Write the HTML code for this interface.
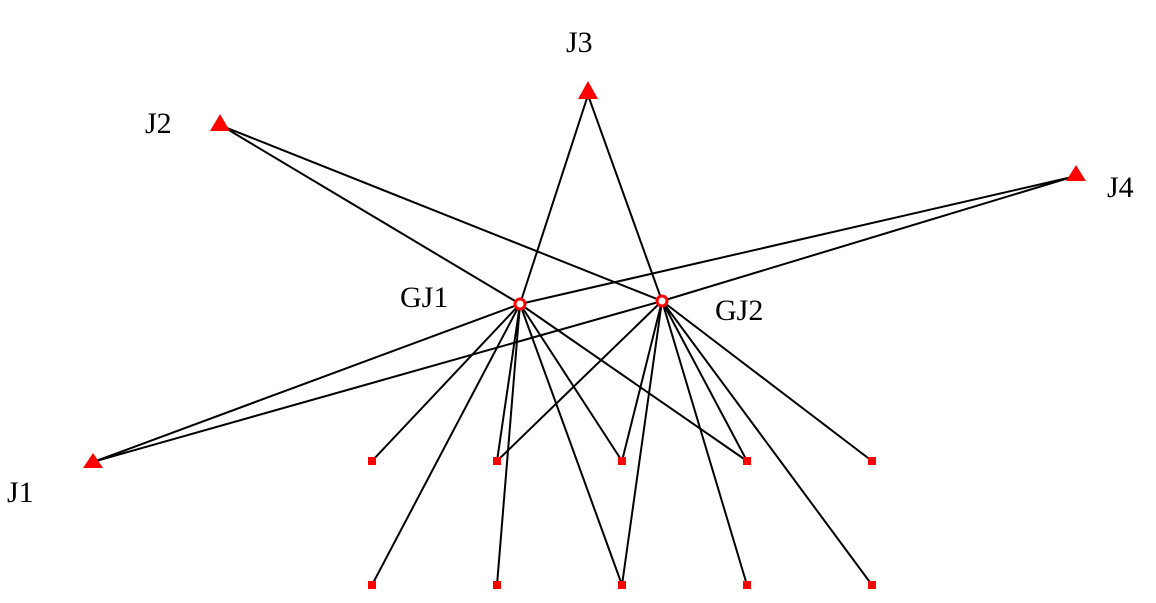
<!DOCTYPE html>
<html><head><meta charset="utf-8"><style>
html,body{margin:0;padding:0;background:#fff;}
svg{display:block;}
text{font-family:"Liberation Serif",serif;font-size:30px;fill:#000;}
</style></head><body>
<svg width="1156" height="603" viewBox="0 0 1156 603" xmlns="http://www.w3.org/2000/svg">
<g stroke="#000" stroke-width="2" fill="none">
<line x1="222" y1="126" x2="520" y2="304"/>
<line x1="222" y1="126" x2="662" y2="301"/>
<line x1="588" y1="95" x2="520" y2="304"/>
<line x1="588" y1="95" x2="662" y2="301"/>
<line x1="1072" y1="177" x2="520" y2="304"/>
<line x1="1072" y1="177" x2="662" y2="301"/>
<line x1="96" y1="461" x2="520" y2="304"/>
<line x1="96" y1="461" x2="662" y2="301"/>
<line x1="520" y1="304" x2="372" y2="461"/>
<line x1="520" y1="304" x2="372" y2="585"/>
<line x1="520" y1="304" x2="497" y2="461"/>
<line x1="520" y1="304" x2="497" y2="585"/>
<line x1="520" y1="304" x2="622" y2="461"/>
<line x1="520" y1="304" x2="622" y2="585"/>
<line x1="520" y1="304" x2="747" y2="461"/>
<line x1="662" y1="301" x2="497" y2="461"/>
<line x1="662" y1="301" x2="622" y2="461"/>
<line x1="662" y1="301" x2="622" y2="585"/>
<line x1="662" y1="301" x2="747" y2="461"/>
<line x1="662" y1="301" x2="747" y2="585"/>
<line x1="662" y1="301" x2="872" y2="461"/>
<line x1="662" y1="301" x2="872" y2="585"/>
</g>
<g fill="#ff0000">
<polygon points="220,114 210,131 230,131"/>
<polygon points="588,81 578,99 598,99"/>
<polygon points="1076,165 1066,181 1086,181"/>
<polygon points="93,453 83,468 103,468"/>
<rect x="368" y="457" width="8" height="8"/>
<rect x="493" y="457" width="8" height="8"/>
<rect x="618" y="457" width="8" height="8"/>
<rect x="743" y="457" width="8" height="8"/>
<rect x="868" y="457" width="8" height="8"/>
<rect x="368" y="581" width="8" height="8"/>
<rect x="493" y="581" width="8" height="8"/>
<rect x="618" y="581" width="8" height="8"/>
<rect x="743" y="581" width="8" height="8"/>
<rect x="868" y="581" width="8" height="8"/>
</g>
<circle cx="520" cy="304" r="5" fill="#fff" stroke="#ff0000" stroke-width="3"/>
<circle cx="662" cy="301" r="5" fill="#fff" stroke="#ff0000" stroke-width="3"/>
<text x="566" y="52">J3</text>
<text x="145" y="133">J2</text>
<text x="1107" y="197">J4</text>
<text x="7" y="502">J1</text>
<text x="400" y="307">GJ1</text>
<text x="715" y="320">GJ2</text>
</svg>
</body></html>
